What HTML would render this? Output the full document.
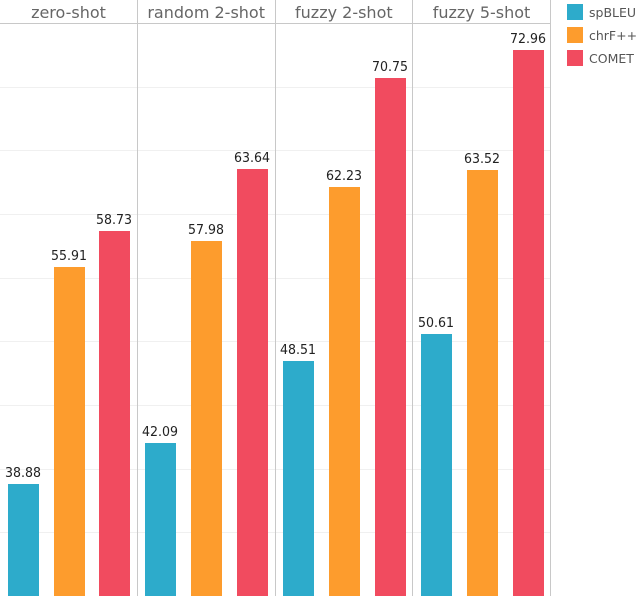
<!DOCTYPE html>
<html>
<head>
<meta charset="utf-8">
<style>
html,body{margin:0;padding:0;background:#fff;width:636px;height:596px;overflow:hidden}
svg{display:block}
text{font-family:"DejaVu Sans","Liberation Sans",sans-serif}
</style>
</head>
<body>
<svg id="chart" width="636" height="596" viewBox="0 0 636 596" xmlns="http://www.w3.org/2000/svg"></svg>
<script>
const panels = ['zero-shot', 'random 2-shot', 'fuzzy 2-shot', 'fuzzy 5-shot'];
const seriesNames = ['spBLEU', 'chrF++', 'COMET'];
const spBLEU = [38.88, 42.09, 48.51, 50.61];
const chrF = [55.91, 57.98, 62.23, 63.52];
const COMET = [58.73, 63.64, 70.75, 72.96];
const gridTicks = [35, 40, 45, 50, 55, 60, 65, 70];

const seriesValues = [spBLEU, chrF, COMET];
const colors = ['#2dabcb', '#fd9c2d', '#f14b5f'];
const svg = document.getElementById('chart');
const NS = 'http://www.w3.org/2000/svg';
function add(tag, attrs, parent, text) {
  const el = document.createElementNS(NS, tag);
  for (const k in attrs) el.setAttribute(k, attrs[k]);
  if (text !== undefined) el.textContent = text;
  (parent || svg).appendChild(el);
  return el;
}
const y = v => 979 - 12.735 * v;
const panelW = 137.75;
const x = (p, s) => Math.round(p * panelW + 7.7 + s * 45.8);
const barW = 31;

gridTicks.forEach(t => {
  const gy = Math.floor(y(t) - 0.35) + 0.5;
  const line = add('line', {x1: 0, x2: 550, y1: gy, y2: gy, stroke: '#f0f0f0', 'stroke-width': 1});
  
  
});

const hdr = add('line', {x1: 0, x2: 551, y1: 23.5, y2: 23.5, stroke: '#c8c8c8', 'stroke-width': 1});



panels.forEach((name, p) => {
  const sx = Math.floor((p + 1) * 137.6) + 0.5;
  const sep = add('line', {x1: sx, x2: sx, y1: 0, y2: 596, stroke: '#c8c8c8', 'stroke-width': 1});
  
  
  const title = add('text', {x: p * 137.67 + 68.5, y: 18, 'text-anchor': 'middle', 'font-size': 16, fill: '#666'}, svg, name);
  
  
  seriesValues.forEach((vals, s) => {
    const v = vals[p];
    const top = Math.round(y(v));
    const bar = add('rect', {x: x(p, s), y: top, width: barW, height: 596 - top, fill: colors[s]});
    
    
    const label = add('text', {x: x(p, s) + barW / 2 - 0.5, y: top - 7, 'text-anchor': 'middle', 'font-size': 13.5, textLength: 36, lengthAdjust: 'spacingAndGlyphs', fill: '#222'}, svg, v.toFixed(2));
    
    
  });
});

seriesNames.forEach((n, i) => {
  const sw = add('rect', {x: 567, y: 4 + i * 23, width: 16, height: 16, fill: colors[i]});
  
  
  const t = add('text', {x: 589, y: 17 + i * 23, 'font-size': 12.5, fill: '#555'}, svg, n);
  
  
});
</script>
</body>
</html>
